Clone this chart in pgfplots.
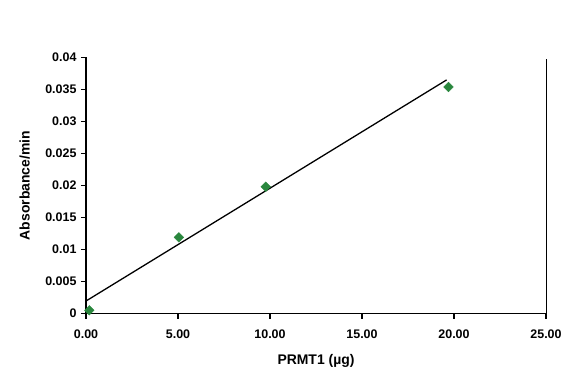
\documentclass[border=0pt]{standalone}
\usepackage{pgfplots}
\pgfplotsset{compat=1.18}
\usepackage{fontspec}
\setmainfont{Liberation Sans}
\definecolor{mkgreen}{RGB}{42,135,62}
\begin{document}
\begin{tikzpicture}
\path[use as bounding box] (0,0) rectangle (577bp,382bp);
\begin{axis}[
  at={(86bp,68.5bp)}, anchor=south west,
  scale only axis, width=460bp, height=256bp,
  xmin=0, xmax=25, ymin=0, ymax=0.04,
  axis x line=bottom, axis y line=left,
  axis line style={-, line width=1.1pt, black},
  x axis line style={line width=1.7pt},
  tick align=outside, major tick length=5bp,
  tick style={line width=1.1pt, black},
  xtick={0,5,10,15,20,25},
  xticklabels={0.00,5.00,10.00,15.00,20.00,25.00},
  ytick={0,0.005,0.01,0.015,0.02,0.025,0.03,0.035,0.04},
  yticklabels={0,0.005,0.01,0.015,0.02,0.025,0.03,0.035,0.04},
  scaled y ticks=false,
  ticklabel style={font=\fontsize{12.5}{13}\selectfont\bfseries},
  xticklabel style={yshift=-8bp},
  yticklabel style={xshift=-1bp},
  xlabel={PRMT1 (µg)},
  ylabel={Absorbance/min},
  label style={font=\fontsize{14}{15}\selectfont\bfseries},
  xlabel style={at={(axis description cs:0.5,-0.184)}, anchor=center},
  ylabel style={at={(axis description cs:-0.133,0.5)}, anchor=center},
  clip=false,
]
\addplot[black, line width=1.3pt, no marks] coordinates {(0,0.00195) (19.6,0.0365)};
\addplot[only marks, mark=square*, mark size=3.4bp, mark options={rotate=45, fill=mkgreen, draw=mkgreen}]
  coordinates {(0.18,0.0005) (5.05,0.0119) (9.77,0.0198) (19.7,0.0354)};
\draw[line width=1pt] (axis cs:25,0) -- (axis cs:25,0.0397);
\end{axis}
\end{tikzpicture}
\end{document}
